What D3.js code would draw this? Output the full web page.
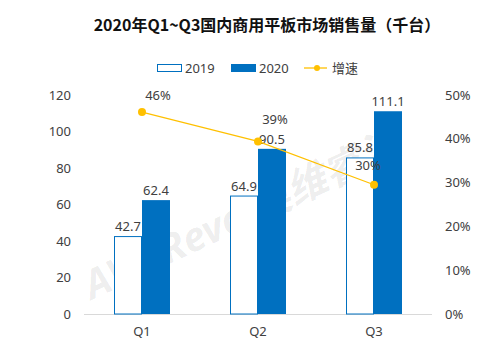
<!DOCTYPE html>
<html>
<head>
<meta charset="utf-8">
<script src="https://cdn.jsdelivr.net/npm/d3@7"></script>
<style>
  html, body { margin: 0; padding: 0; background: #fff; }
  svg { display: block; font-family: "Noto Sans", "Noto Sans CJK SC", sans-serif; }
</style>
</head>
<body>
<div id="chart"></div>
<script>
// ---- data ----
const categories = ["Q1", "Q2", "Q3"];
const sales2019 = [42.7, 64.9, 85.8];
const sales2020 = [62.4, 90.5, 111.1];
const growth = [0.461, 0.394, 0.295];
const growthLabels = ["46%", "39%", "30%"];
const leftTicks = [0, 20, 40, 60, 80, 100, 120];
const rightTicks = [0, 0.1, 0.2, 0.3, 0.4, 0.5];
const seriesNames = ["2019", "2020", "增速"];
const title = "2020年Q1~Q3国内商用平板市场销售量（千台）";
const watermark = "AVC Revo 奥维睿沃";

// ---- layout ----
const W = 483, H = 345;
const plot = { left: 84, right: 432, top: 95, bottom: 314 };
const blue = "#0070C0", gold = "#FFC000", textCol = "#404040";
const barW = 28;
const growthLabelOffsets = [[16, -12], [17, -17], [-6, -15]];

const svg = d3.select("#chart").append("svg").attr("width", W).attr("height", H);

const x = d3.scaleBand().domain(categories).range([plot.left, plot.right]).padding(0);
const cx = c => x(c) + x.bandwidth() / 2;
const y = d3.scaleLinear().domain([0, 120]).range([plot.bottom, plot.top]);
const yR = d3.scaleLinear().domain([0, 0.5]).range([plot.bottom, plot.top]);

// watermark
svg.append("text")
  .attr("transform", "translate(92,300) rotate(-25)")
  .attr("font-size", 40).attr("font-weight", "bold").attr("font-style", "italic")
  .attr("fill", "#000").attr("fill-opacity", 0.08)
  .attr("font-family", "'Noto Sans', 'Noto Sans CJK SC', sans-serif")
  .text(watermark);

// title
svg.append("text")
  .attr("x", 267).attr("y", 31)
  .attr("text-anchor", "middle")
  .attr("font-size", 16).attr("font-weight", "bold").attr("fill", "#111")
  .attr("font-family", "'Noto Sans CJK SC', sans-serif")
  .text(title);

// legend
const lg = svg.append("g").attr("font-size", 13).attr("fill", textCol);
lg.append("rect").attr("x", 157.5).attr("y", 64.5).attr("width", 24).attr("height", 7)
  .attr("fill", "#fff").attr("stroke", blue).attr("stroke-width", 1);
lg.append("text").attr("x", 185).attr("y", 73).attr("fill", textCol).text(seriesNames[0]);
lg.append("rect").attr("x", 231).attr("y", 64).attr("width", 25).attr("height", 8).attr("fill", blue);
lg.append("text").attr("x", 259).attr("y", 73).attr("fill", textCol).text(seriesNames[1]);
lg.append("line").attr("x1", 304).attr("x2", 327).attr("y1", 68).attr("y2", 68)
  .attr("stroke", gold).attr("stroke-width", 1.3);
lg.append("circle").attr("cx", 317).attr("cy", 68).attr("r", 3).attr("fill", gold);
lg.append("text").attr("x", 332).attr("y", 73).attr("fill", textCol)
  .attr("font-family", "'Noto Sans CJK SC', sans-serif").text(seriesNames[2]);

// axes
const leftAxis = d3.axisLeft(y).tickValues(leftTicks).tickSize(0).tickPadding(13);
svg.append("g").attr("transform", `translate(${plot.left},0)`).call(leftAxis)
  .call(g => g.select(".domain").remove())
  .call(g => g.selectAll("text").attr("font-size", 13).attr("fill", textCol)
    .attr("font-family", "'Noto Sans', sans-serif"));

const rightAxis = d3.axisRight(yR).tickValues(rightTicks).tickSize(0).tickPadding(13)
  .tickFormat(d3.format(".0%"));
svg.append("g").attr("transform", `translate(${plot.right},0)`).call(rightAxis)
  .call(g => g.select(".domain").remove())
  .call(g => g.selectAll("text").attr("font-size", 13).attr("fill", textCol)
    .attr("font-family", "'Noto Sans', sans-serif"));

const bottomAxis = d3.axisBottom(x).tickSize(0).tickPadding(13);
svg.append("g").attr("transform", `translate(0,${plot.bottom})`).call(bottomAxis)
  .call(g => g.select(".domain").attr("stroke", "#d9d9d9").attr("d", `M${plot.left},0.5H${plot.right}`))
  .call(g => g.selectAll("text").attr("font-size", 13).attr("fill", textCol)
    .attr("font-family", "'Noto Sans', sans-serif"));

// bars 2019
svg.append("g").selectAll("rect").data(categories).join("rect")
  .attr("x", (c) => cx(c) - barW + 0.5)
  .attr("y", (c, i) => y(sales2019[i]) + 0.5)
  .attr("width", barW - 1)
  .attr("height", (c, i) => plot.bottom - y(sales2019[i]) - 0.5)
  .attr("fill", "#fff").attr("stroke", blue).attr("stroke-width", 1);

// bars 2020
svg.append("g").selectAll("rect").data(categories).join("rect")
  .attr("x", c => cx(c))
  .attr("y", (c, i) => y(sales2020[i]))
  .attr("width", barW)
  .attr("height", (c, i) => plot.bottom - y(sales2020[i]))
  .attr("fill", blue);

// bar labels
const lblG = svg.append("g").attr("font-size", 13).attr("fill", textCol).attr("text-anchor", "middle");
lblG.selectAll(".l19").data(categories).join("text")
  .attr("x", c => cx(c) - barW / 2)
  .attr("y", (c, i) => y(sales2019[i]) - 5)
  .text((c, i) => sales2019[i].toFixed(1));
lblG.selectAll(".l20").data(categories).join("text")
  .attr("x", c => cx(c) + barW / 2)
  .attr("y", (c, i) => y(sales2020[i]) - 5)
  .text((c, i) => sales2020[i].toFixed(1));

// growth line
const line = d3.line().x((d, i) => cx(categories[i])).y(d => yR(d));
svg.append("path").datum(growth).attr("d", line)
  .attr("fill", "none").attr("stroke", gold).attr("stroke-width", 1.2);
svg.append("g").selectAll("circle").data(growth).join("circle")
  .attr("cx", (d, i) => cx(categories[i])).attr("cy", d => yR(d)).attr("r", 4)
  .attr("fill", gold);
svg.append("g").attr("font-size", 13).attr("fill", textCol).attr("text-anchor", "middle")
  .selectAll("text").data(growth).join("text")
  .attr("x", (d, i) => cx(categories[i]) + growthLabelOffsets[i][0])
  .attr("y", (d, i) => yR(d) + growthLabelOffsets[i][1])
  .text((d, i) => growthLabels[i]);
</script>
</body>
</html>
